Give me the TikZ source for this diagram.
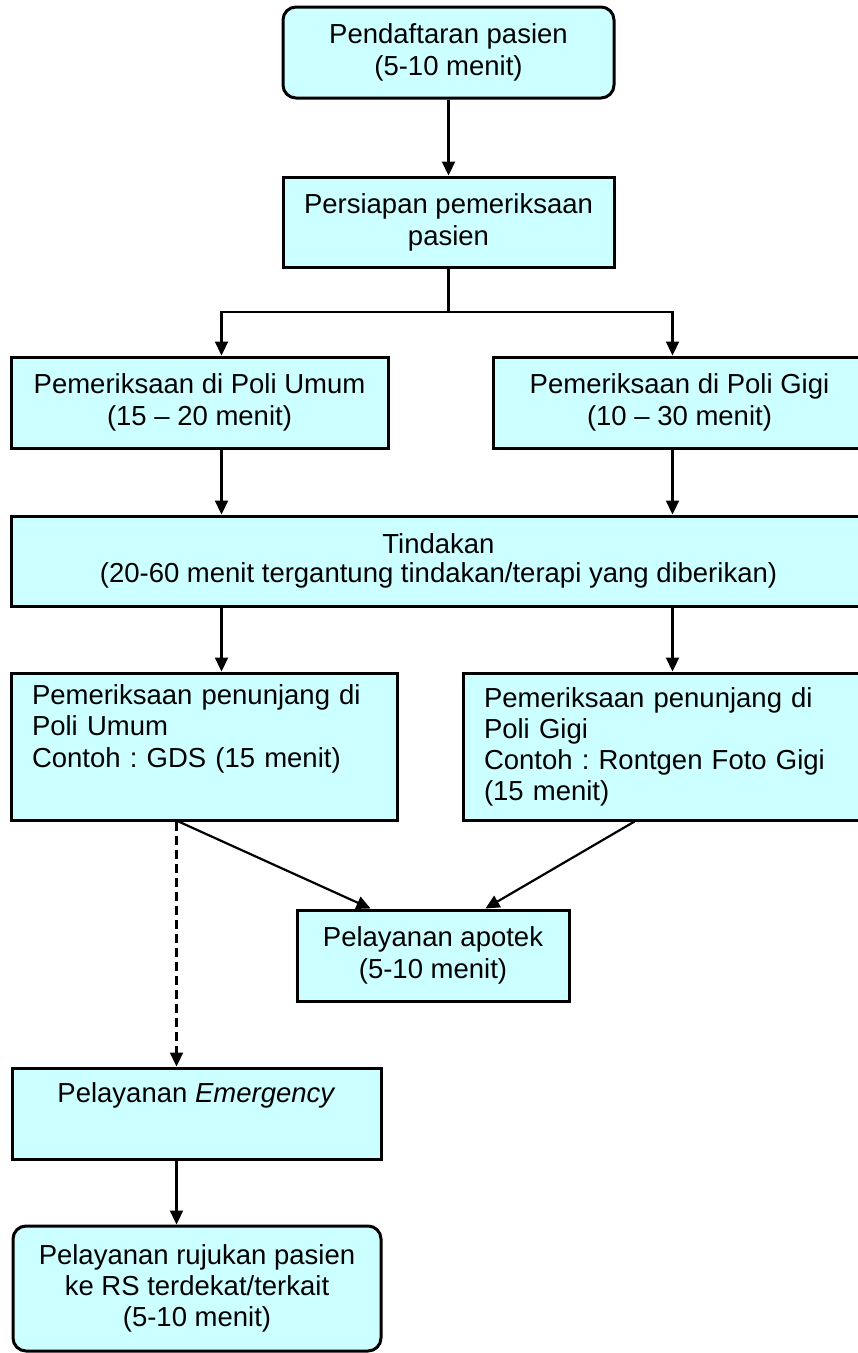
\documentclass[tikz,border=0pt]{standalone}
\usepackage{fontspec}
\setmainfont{Liberation Sans}
\usetikzlibrary{arrows.meta}
\definecolor{boxfill}{RGB}{204,255,255}
\frenchspacing
\tikzset{
  box/.style={draw=black, line width=3pt, fill=boxfill, rectangle, align=center,
    inner sep=4pt, font={\fontsize{27.5pt}{32pt}\selectfont}},
  rbox/.style={box, rounded corners=13pt},
  lbox/.style={box, align=left, inner xsep=21pt, inner ysep=4pt},
  arr/.style={line width=2.2pt, -{Triangle[length=14pt,width=13pt]}},
  conn/.style={line width=2.2pt}
}
\begin{document}
\begin{tikzpicture}[x=1pt,y=-1pt]
\useasboundingbox (0,0) rectangle (858,1353);
\fill[white] (0,0) rectangle (858,1353);
\clip (0,0) rectangle (858,1353);

\node[rbox, minimum width=331pt, minimum height=91pt] (reg) at (448.5,52.5)
  {Pendaftaran pasien\\(5-10 menit)};
\node[box, minimum width=331pt, minimum height=90pt] (prep) at (448.5,222)
  {Persiapan pemeriksaan\\pasien};
\node[box, minimum width=377pt, minimum height=91pt] (umum) at (199.5,402.5)
  {Pemeriksaan di Poli Umum\\(15 – 20 menit)};
\node[box, minimum width=373pt, minimum height=91pt] (gigi) at (679.5,402.5)
  {Pemeriksaan di Poli Gigi\\(10 – 30 menit)};
\node[box, minimum width=855pt, minimum height=90pt,
  font={\fontsize{27.5pt}{29pt}\selectfont}] (tind) at (438.5,561)
  {Tindakan\\(20-60 menit tergantung tindakan/terapi yang diberikan)};
\node[lbox, text width=344pt, minimum height=147pt,
  font={\fontsize{27.5pt}{31.5pt}\selectfont}] (pumum) at (204,746.5)
  {Pemeriksaan penunjang di\\Poli Umum\\Contoh : GDS (15 menit)\\\strut};
\node[lbox, text width=361pt, minimum height=147pt,
  font={\fontsize{27.5pt}{31pt}\selectfont}] (pgigi) at (664.5,746.5)
  {Pemeriksaan penunjang di\\Poli Gigi\\Contoh : Rontgen Foto Gigi\\(15 menit)};
\node[box, minimum width=272pt, minimum height=91pt] (apotek) at (433,955.5)
  {Pelayanan apotek\\(5-10 menit)};
\node[box, minimum width=369pt, minimum height=91pt] (emerg) at (196.5,1113.5)
  {Pelayanan \textit{Emergency}\\\strut};
\node[rbox, minimum width=368pt, minimum height=125pt,
  font={\fontsize{27.5pt}{31pt}\selectfont}] (ruj) at (197,1288.5)
  {Pelayanan rujukan pasien\\ke RS terdekat/terkait\\(5-10 menit)};

\coordinate (split) at (448.5,312);

\draw[arr] (reg) -- (prep);
\draw[conn] (prep.south) -- (split);
\draw[arr] (split) -| ([xshift=212pt]umum.north west);
\draw[arr] (split) -| ([xshift=181pt]gigi.north west);
\draw[arr] ([xshift=212pt]umum.south west) -- ([xshift=212pt]umum.south west |- tind.north);
\draw[arr] ([xshift=181pt]gigi.south west) -- ([xshift=181pt]gigi.south west |- tind.north);
\draw[arr] ([xshift=212pt]tind.south west) -- ([xshift=212pt]tind.south west |- pumum.north);
\draw[arr] ([xshift=663pt]tind.south west) -- ([xshift=663pt]tind.south west |- pgigi.north);
\draw[arr] ([xshift=169pt]pumum.south west) -- ([xshift=75pt]apotek.north west);
\draw[arr] ([xshift=173pt]pgigi.south west) -- ([xshift=190pt]apotek.north west);
\draw[arr, dash pattern=on 9pt off 5pt] ([xshift=167pt]pumum.south west) -- ([xshift=167pt]pumum.south west |- emerg.north);
\draw[arr] ([xshift=166pt]emerg.south west) -- ([xshift=166pt]emerg.south west |- ruj.north);
\end{tikzpicture}
\end{document}
